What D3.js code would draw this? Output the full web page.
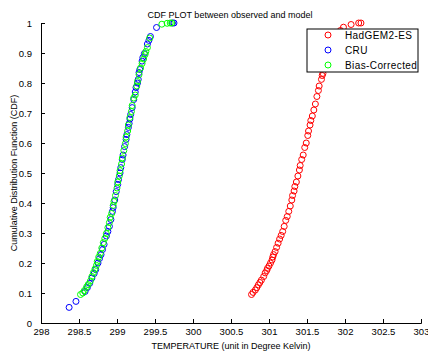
<!DOCTYPE html>
<html>
<head>
<meta charset="utf-8">
<script src="https://cdn.jsdelivr.net/npm/d3@7"></script>
<style>
  body { margin: 0; background: white; }
  text { font-family: "Liberation Sans", Arial, sans-serif; fill: black; }
</style>
</head>
<body>
<div class="cdf-plot"></div>
<script>
// series: temperature (K) and CDF value
const hadTemp = [300.77, 300.79, 300.82, 300.84, 300.86, 300.88, 300.90, 300.93, 300.95, 300.97,
  300.98, 301.00, 301.02, 301.04, 301.05, 301.06, 301.08, 301.10, 301.12, 301.14,
  301.16, 301.18, 301.20, 301.22, 301.24, 301.26, 301.28, 301.30, 301.31, 301.33,
  301.34, 301.36, 301.38, 301.40, 301.41, 301.43, 301.45, 301.47, 301.49, 301.51,
  301.52, 301.54, 301.55, 301.57, 301.59, 301.61, 301.63, 301.65, 301.66, 301.69,
  301.70, 301.71, 301.74, 301.77, 301.80, 301.84, 301.88, 301.94, 301.98, 302.08,
  302.18, 302.21];
const hadCdf = [0.095, 0.102, 0.110, 0.118, 0.127, 0.135, 0.143, 0.155, 0.167, 0.175,
  0.182, 0.190, 0.200, 0.210, 0.220, 0.228, 0.238, 0.252, 0.266, 0.280,
  0.292, 0.305, 0.322, 0.342, 0.355, 0.372, 0.390, 0.410, 0.425, 0.440,
  0.455, 0.470, 0.490, 0.510, 0.525, 0.545, 0.560, 0.585, 0.600, 0.625,
  0.640, 0.660, 0.675, 0.690, 0.710, 0.730, 0.755, 0.775, 0.790, 0.812,
  0.825, 0.832, 0.855, 0.880, 0.905, 0.930, 0.950, 0.975, 0.986, 0.995,
  1.0, 1.0];

const cruTemp = [298.37, 298.46, 298.58, 298.61, 298.64, 298.67, 298.70, 298.72, 298.75, 298.77,
  298.79, 298.81, 298.83, 298.86, 298.88, 298.90, 298.92, 298.94, 298.95, 298.97,
  298.99, 299.01, 299.02, 299.04, 299.05, 299.07, 299.08, 299.10, 299.12, 299.13,
  299.15, 299.16, 299.17, 299.18, 299.20, 299.22, 299.24, 299.25, 299.27, 299.28,
  299.29, 299.30, 299.33, 299.34, 299.36, 299.40, 299.42, 299.44, 299.52, 299.73,
  299.75];
const cruCdf = [0.052, 0.072, 0.105, 0.118, 0.132, 0.150, 0.165, 0.178, 0.200, 0.215,
  0.228, 0.245, 0.262, 0.290, 0.305, 0.322, 0.345, 0.372, 0.385, 0.410,
  0.438, 0.462, 0.478, 0.500, 0.518, 0.545, 0.560, 0.588, 0.612, 0.628,
  0.652, 0.665, 0.680, 0.695, 0.718, 0.745, 0.770, 0.785, 0.800, 0.812,
  0.835, 0.845, 0.873, 0.885, 0.898, 0.930, 0.942, 0.955, 0.985, 1.0,
  1.0];

const biasTemp = [298.52, 298.55, 298.57, 298.60, 298.62, 298.65, 298.67, 298.69, 298.71, 298.73,
  298.74, 298.76, 298.78, 298.80, 298.82, 298.84, 298.86, 298.88, 298.90, 298.91,
  298.93, 298.95, 298.96, 298.98, 299.00, 299.01, 299.03, 299.04, 299.06, 299.07,
  299.09, 299.11, 299.12, 299.14, 299.15, 299.17, 299.19, 299.20, 299.22, 299.24,
  299.26, 299.27, 299.29, 299.31, 299.33, 299.35, 299.37, 299.38, 299.40, 299.43,
  299.59, 299.66, 299.70, 299.72];
const biasCdf = [0.095, 0.100, 0.108, 0.120, 0.128, 0.140, 0.155, 0.168, 0.180, 0.192,
  0.205, 0.220, 0.232, 0.250, 0.268, 0.282, 0.298, 0.318, 0.335, 0.352,
  0.365, 0.392, 0.405, 0.425, 0.450, 0.470, 0.490, 0.508, 0.530, 0.550,
  0.575, 0.598, 0.620, 0.640, 0.660, 0.685, 0.705, 0.725, 0.750, 0.760,
  0.790, 0.805, 0.828, 0.850, 0.865, 0.880, 0.895, 0.905, 0.918, 0.950,
  0.996, 0.999, 1.0, 1.0];

const xTicks = [298, 298.5, 299, 299.5, 300, 300.5, 301, 301.5, 302, 302.5, 303];
const yTicks = [0, 0.1, 0.2, 0.3, 0.4, 0.5, 0.6, 0.7, 0.8, 0.9, 1];

const seriesNames = ["HadGEM2-ES", "CRU", "Bias-Corrected"];
const seriesColors = ["#ff0000", "#0000ff", "#00ff00"];

(() => {
  const width = 428, height = 351;
  const margin = { top: 23, right: 7, bottom: 28, left: 41 };
  const innerWidth = width - margin.left - margin.right;
  const innerHeight = height - margin.top - margin.bottom;

  const svg = d3.select(".cdf-plot")
    .append("svg")
    .attr("width", width)
    .attr("height", height);

  const g = svg.append("g")
    .attr("transform", `translate(${margin.left},${margin.top})`);

  const x = d3.scaleLinear().domain([298, 303]).range([0, innerWidth]);
  const y = d3.scaleLinear().domain([0, 1]).range([innerHeight, 0]);

  const series = [
    { name: seriesNames[0], color: seriesColors[0], temp: hadTemp, cdf: hadCdf },
    { name: seriesNames[1], color: seriesColors[1], temp: cruTemp, cdf: cruCdf },
    { name: seriesNames[2], color: seriesColors[2], temp: biasTemp, cdf: biasCdf },
  ];

  // markers, plotted in legend order (green ends on top)
  series.forEach((s) => {
    g.append("g")
      .selectAll("circle")
      .data(s.temp.map((t, i) => ({ t: t, c: s.cdf[i] })))
      .enter()
      .append("circle")
      .attr("cx", (d) => x(d.t))
      .attr("cy", (d) => y(d.c))
      .attr("r", 3)
      .attr("fill", "none")
      .attr("stroke", s.color)
      .attr("stroke-width", 1);
  });

  // axes, ticks pointing inward like matlab
  const xAxis = g.append("g")
    .attr("transform", `translate(0,${innerHeight})`)
    .call(d3.axisBottom(x).tickValues(xTicks).tickSize(-4).tickPadding(9)
      .tickFormat((d) => d3.format("")(d)));
  const yAxis = g.append("g")
    .call(d3.axisLeft(y).tickValues(yTicks).tickSize(-4).tickPadding(9)
      .tickFormat((d) => d3.format("")(d)));

  [xAxis, yAxis].forEach((a) => {
    a.select(".domain").attr("stroke", "black").attr("stroke-width", 1);
    a.selectAll(".tick line").attr("stroke", "black");
    a.selectAll(".tick text")
      .style("font-size", "9.5px")
      .attr("fill", "black");
  });
  xAxis.selectAll(".tick text").attr("dy", "0.35em").attr("y", 9);

  // title and labels
  svg.append("text")
    .attr("x", 230)
    .attr("y", 18)
    .attr("text-anchor", "middle")
    .style("font-size", "9px")
    .text("CDF PLOT between observed and model");

  svg.append("text")
    .attr("x", 231)
    .attr("y", 349)
    .attr("text-anchor", "middle")
    .style("font-size", "9px")
    .text("TEMPERATURE (unit in Degree Kelvin)");

  svg.append("text")
    .attr("transform", `translate(17,${margin.top + innerHeight / 2}) rotate(-90)`)
    .attr("text-anchor", "middle")
    .style("font-size", "9px")
    .text("Cumulative Distribution Function (CDF)");

  // legend
  const legend = svg.append("g").attr("transform", "translate(307,29)");
  legend.append("rect")
    .attr("width", 111)
    .attr("height", 43)
    .attr("fill", "white")
    .attr("stroke", "black")
    .attr("stroke-width", 1);

  const rows = legend.selectAll(".row")
    .data(series)
    .enter()
    .append("g")
    .attr("class", "row")
    .attr("transform", (d, i) => `translate(0,${6 + i * 15})`);

  rows.append("circle")
    .attr("cx", 21)
    .attr("cy", 0)
    .attr("r", 3)
    .attr("fill", "none")
    .attr("stroke", (d) => d.color);

  rows.append("text")
    .attr("x", 38)
    .attr("y", 3.5)
    .style("font-size", "10px")
    .style("letter-spacing", "0.4px")
    .text((d) => d.name);
})();
</script>
</body>
</html>
